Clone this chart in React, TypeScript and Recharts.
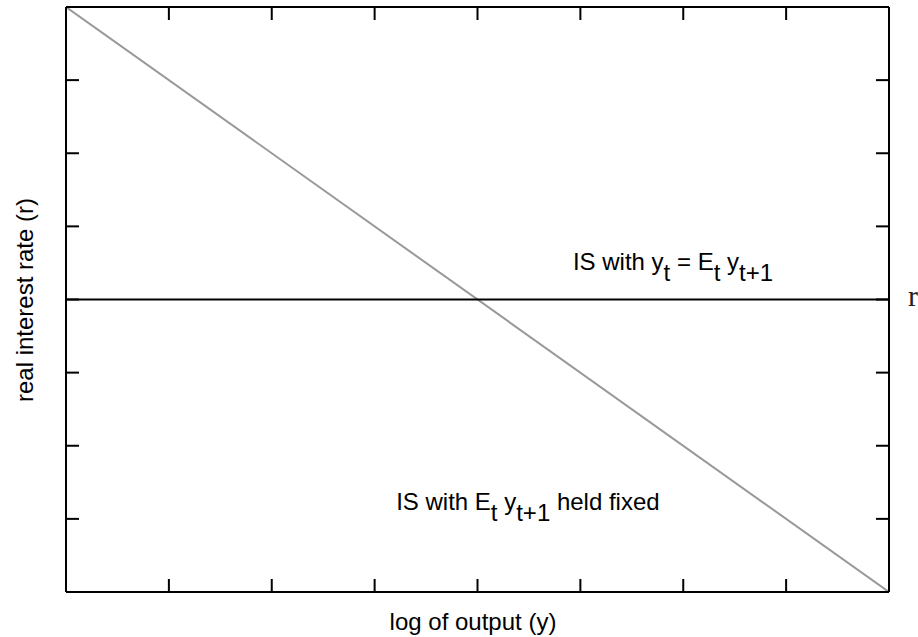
import React from 'react';
import { LineChart, Line, XAxis, YAxis, ReferenceDot } from 'recharts';

// log output on the x axis, real interest rate on the y axis (unitless, 0..8)
const outputLevels = [0, 8];
const isFixedRates = [8, 0];
const isSteadyRates = [4, 4];
const axisTicks = [0, 1, 2, 3, 4, 5, 6, 7, 8];

const fixedData = outputLevels.map((y, i) => ({ y, r: isFixedRates[i] }));
const steadyData = outputLevels.map((y, i) => ({ y, r: isSteadyRates[i] }));

const FONT = '"Liberation Sans", Arial, sans-serif';
const SUB = 11;

const frameLine = { stroke: '#000', strokeWidth: 2 };

const SteadyLabel = ({ viewBox }: any) => (
  <text x={viewBox.x} y={viewBox.y} textAnchor="middle" fontFamily={FONT} fontSize={24} fill="#000">
    {'IS with y'}
    <tspan dy={SUB}>t</tspan>
    <tspan dy={-SUB}>{' = E'}</tspan>
    <tspan dy={SUB}>t</tspan>
    <tspan dy={-SUB}>{' y'}</tspan>
    <tspan dy={SUB}>t+1</tspan>
  </text>
);

const FixedLabel = ({ viewBox }: any) => (
  <text x={viewBox.x} y={viewBox.y} textAnchor="middle" fontFamily={FONT} fontSize={24} fill="#000">
    {'IS with E'}
    <tspan dy={SUB}>t</tspan>
    <tspan dy={-SUB}>{' y'}</tspan>
    <tspan dy={SUB}>t+1</tspan>
    <tspan dy={-SUB}>{' held fixed'}</tspan>
  </text>
);

const RateLabel = ({ viewBox }: any) => (
  <text x={viewBox.x + 19} y={viewBox.y + 6} fontFamily={'"Liberation Serif", serif'} fontSize={30} fill="#222">
    r
  </text>
);

const axisCommon = {
  type: 'number' as const,
  domain: [0, 8],
  ticks: axisTicks,
  allowDataOverflow: true,
  mirror: true,
  tickSize: 13,
  tickFormatter: () => '',
  axisLine: frameLine,
  tickLine: frameLine,
};

export default function App() {
  return (
    <div style={{ position: 'absolute', left: 0, top: 0 }}>
      <LineChart width={918} height={637} margin={{ top: 7, right: 29, bottom: 45, left: 66 }}>
        <XAxis {...axisCommon} dataKey="y" orientation="bottom" height={1} />
        <XAxis {...axisCommon} xAxisId="top" dataKey="y" orientation="top" height={1} />
        <YAxis {...axisCommon} orientation="left" width={1} />
        <YAxis {...axisCommon} yAxisId="right" orientation="right" width={1} />

        <Line data={fixedData} dataKey="r" stroke="#999" strokeWidth={2} dot={false} isAnimationActive={false} />
        <Line data={steadyData} dataKey="r" stroke="#000" strokeWidth={2} dot={false} isAnimationActive={false} />

        <ReferenceDot x={5.9} y={4.4} r={0} fill="none" stroke="none" label={<SteadyLabel />} />
        <ReferenceDot x={4.49} y={1.12} r={0} fill="none" stroke="none" label={<FixedLabel />} />
        <ReferenceDot x={8} y={4} r={0} fill="none" stroke="none" ifOverflow="visible" label={<RateLabel />} />

        <text x={473} y={630} textAnchor="middle" fontFamily={FONT} fontSize={24} fill="#000">
          log of output (y)
        </text>
        <text x={33} y={300} transform="rotate(-90 33 300)" textAnchor="middle" fontFamily={FONT} fontSize={24} fill="#000">
          real interest rate (r)
        </text>
      </LineChart>
    </div>
  );
}
